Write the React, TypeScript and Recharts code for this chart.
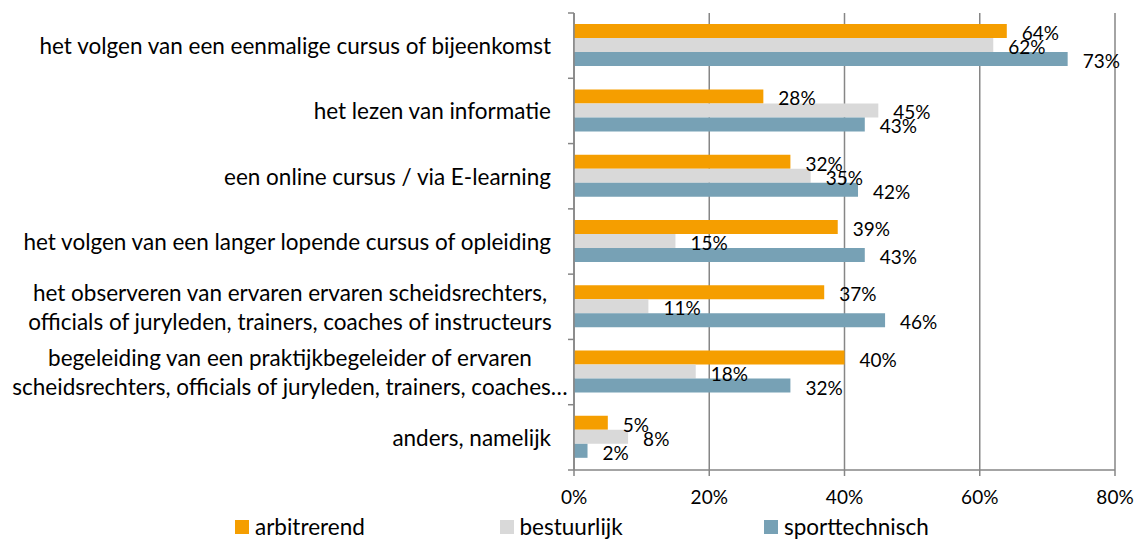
import React from 'react'
import {
  BarChart,
  Bar,
  XAxis,
  YAxis,
  CartesianGrid,
  LabelList,
  Legend,
} from 'recharts'

const categories = [
  'het volgen van een eenmalige cursus of bijeenkomst',
  'het lezen van informatie',
  'een online cursus / via E-learning',
  'het volgen van een langer lopende cursus of opleiding',
  'het observeren van ervaren ervaren scheidsrechters,\nofficials of juryleden, trainers, coaches of instructeurs',
  'begeleiding van een praktijkbegeleider of ervaren\nscheidsrechters, officials of juryleden, trainers, coaches…',
  'anders, namelijk',
]

const arbitrerend = [64, 28, 32, 39, 37, 40, 5]
const bestuurlijk = [62, 45, 35, 15, 11, 18, 8]
const sporttechnisch = [73, 43, 42, 43, 46, 32, 2]

const xTicks = [0, 20, 40, 60, 80]

const seriesNames = ['arbitrerend', 'bestuurlijk', 'sporttechnisch']
const seriesKeys = ['arb', 'bes', 'spo']
const colors = ['#F59E00', '#D9D9D9', '#77A1B5']

const data = categories.map((name, i) => ({
  name,
  arb: arbitrerend[i],
  bes: bestuurlijk[i],
  spo: sporttechnisch[i],
}))

const FONT = 'Lato, "Open Sans", sans-serif'
const AXIS = '#868686'
const PLOT_LEFT = 574
const PLOT_TOP = 13
const PLOT_BOTTOM = 470
const BAND = (PLOT_BOTTOM - PLOT_TOP) / categories.length

// y axis label: single lines right aligned, wrapped ones centred (like excel)
function CategoryTick(props: any) {
  const { y, payload, index } = props
  const lines: string[] = String(payload.value).split('\n')
  const isLast = index === categories.length - 1
  return (
    <g>
      <line x1={PLOT_LEFT - 6} x2={PLOT_LEFT} y1={y - BAND / 2} y2={y - BAND / 2} stroke={AXIS} strokeWidth={1.5} />
      {isLast && (
        <line x1={PLOT_LEFT - 6} x2={PLOT_LEFT} y1={y + BAND / 2} y2={y + BAND / 2} stroke={AXIS} strokeWidth={1.5} />
      )}
      {lines.length === 1 ? (
        <text x={PLOT_LEFT - 23} y={y} textAnchor="end" dominantBaseline="central" fill="#000" fontSize={22.5} fontFamily={FONT}>
          {lines[0]}
        </text>
      ) : (
        lines.map((line, i) => (
          <text
            key={i}
            x={290}
            y={y + (i - (lines.length - 1) / 2) * 29.5}
            textAnchor="middle"
            dominantBaseline="central"
            fill="#000"
            fontSize={22.5}
            fontFamily={FONT}
          >
            {line}
          </text>
        ))
      )}
    </g>
  )
}

function ValueLabel(props: any) {
  const { x, y, width, height, value } = props
  return (
    <text
      x={x + width + 15}
      y={y + height / 2 + 1.5}
      dominantBaseline="central"
      fill="#000"
      fontSize={19}
      fontFamily={FONT}
    >
      {value}%
    </text>
  )
}

function LegendContent() {
  return (
    <div style={{ position: 'relative', height: 30, width: 1135 }}>
      {seriesNames.map((name, i) => (
        <div
          key={name}
          style={{
            position: 'absolute',
            left: 235 + i * 264.5,
            top: 7,
            display: 'flex',
            alignItems: 'center',
            fontFamily: FONT,
            fontSize: 22.5,
            color: '#000',
            lineHeight: '20px',
          }}
        >
          <span style={{ width: 14, height: 14, background: colors[i], marginRight: 6, display: 'inline-block' }} />
          {name}
        </div>
      ))}
    </div>
  )
}

export default function App() {
  return (
    <div style={{ position: 'absolute', left: 0, top: 0, width: 1135, height: 540, background: '#fff' }}>
      <BarChart
        width={1135}
        height={540}
        data={data}
        layout="vertical"
        margin={{ top: PLOT_TOP, right: 20, bottom: 0, left: 0 }}
        barCategoryGap="17%"
        barGap={0}
      >
        <CartesianGrid horizontal={false} stroke={AXIS} strokeWidth={1.5} />
        <XAxis
          type="number"
          domain={[0, 80]}
          ticks={xTicks}
          height={40}
          stroke={AXIS}
          strokeWidth={1.5}
          tickSize={6}
          tickMargin={15}
          tickFormatter={(v) => `${v}%`}
          tick={{ fill: '#000', fontSize: 19, fontFamily: FONT }}
        />
        <YAxis
          type="category"
          dataKey="name"
          width={PLOT_LEFT}
          stroke={AXIS}
          strokeWidth={1.5}
          tickLine={false}
          tick={<CategoryTick />}
          interval={0}
        />
        <Legend verticalAlign="bottom" height={30} content={<LegendContent />} />
        {seriesKeys.map((key, i) => (
          <Bar key={key} dataKey={key} name={seriesNames[i]} fill={colors[i]} isAnimationActive={false}>
            <LabelList dataKey={key} content={<ValueLabel />} />
          </Bar>
        ))}
      </BarChart>
    </div>
  )
}
